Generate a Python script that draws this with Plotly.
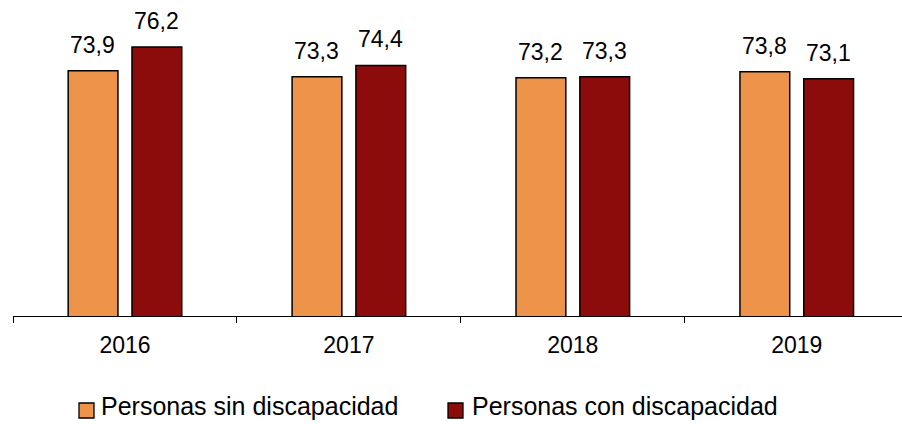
import plotly.graph_objects as go

years = ["2016", "2017", "2018", "2019"]
sin_disc = [73.9, 73.3, 73.2, 73.8]
con_disc = [76.2, 74.4, 73.3, 73.1]
series_names = ["Personas sin discapacidad", "Personas con discapacidad"]
colors = ["#EE944A", "#8B0C0A"]

FONT = "Liberation Sans, Arial, sans-serif"
W, H = 902, 424
ML, MR, MT, MB = 13, 0, 8, 108
PW, PH = W - ML - MR, H - MT - MB

def px_x(px):
    return (px - ML) / PW

def px_y(py):
    return (H - MB - py) / PH

def fmt(v):
    return f"{v:.1f}".replace(".", ",")

fig = go.Figure()
for name, vals, col in zip(series_names, [sin_disc, con_disc], colors):
    fig.add_trace(go.Bar(
        x=years, y=vals, name=name,
        marker=dict(color=col, line=dict(color="#000000", width=1.5)),
        hoverinfo="skip", showlegend=False,
    ))

annotations = []
for k, vals in enumerate([sin_disc, con_disc]):
    for i, v in enumerate(vals):
        annotations.append(dict(
            x=i, y=v, xref="x", yref="y", text=fmt(v), showarrow=False,
            xshift=(-32 if k == 0 else 32), yshift=11, yanchor="bottom",
            font=dict(family=FONT, size=23, color="#000000"),
        ))

# legend drawn as swatches + labels
shapes = []
legend_sq = [79, 448]
legend_tx = [99, 470]
for k, (name, col) in enumerate(zip(series_names, colors)):
    x0 = legend_sq[k]
    shapes.append(dict(
        type="rect", xref="paper", yref="paper",
        x0=px_x(x0), x1=px_x(x0 + 15), y0=px_y(418), y1=px_y(403),
        fillcolor=col, line=dict(color="#000000", width=1.3),
    ))
    annotations.append(dict(
        x=px_x(legend_tx[k]), y=px_y(406), xref="paper", yref="paper",
        text=name, showarrow=False, xanchor="left", yanchor="middle",
        font=dict(family=FONT, size=25, color="#000000"),
    ))

fig.update_layout(
    width=W, height=H,
    margin=dict(l=ML, r=MR, t=MT, b=MB),
    paper_bgcolor="white", plot_bgcolor="white",
    barmode="group", bargap=0.43, bargroupgap=0.22,
    font=dict(family=FONT, size=23, color="#000000"),
    xaxis=dict(
        type="category", range=[-0.5, 3.47], automargin=False,
        showline=True, linecolor="#000000", linewidth=1.3,
        ticks="outside", tickson="boundaries", ticklen=6, tickcolor="#000000", tickwidth=1.3,
        ticklabelstandoff=8,
        showgrid=False, tickfont=dict(family=FONT, size=23, color="#000000"),
    ),
    yaxis=dict(range=[50, 80], visible=False, showgrid=False, automargin=False),
    annotations=annotations,
    shapes=shapes,
    showlegend=False,
)

fig.write_html(
    "out.html",
    config={"displayModeBar": False},
    post_script="document.body.style.margin='0';document.body.style.overflow='hidden';",
)
